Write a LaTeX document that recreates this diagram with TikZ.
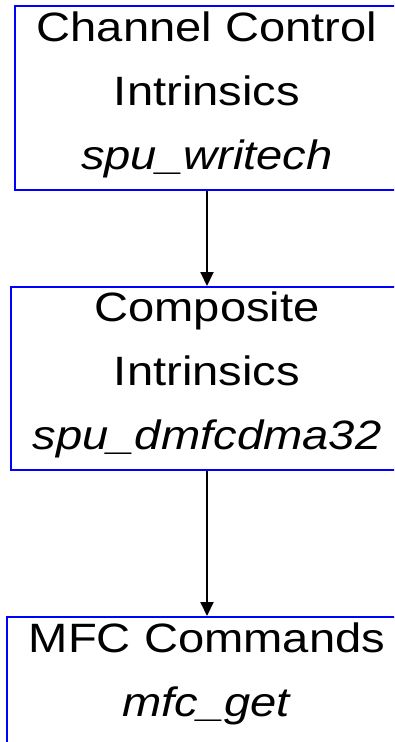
\documentclass[tikz,border=0pt]{standalone}
\usepackage{fontspec}
\setmainfont{Liberation Sans}
\newfontfamily\blkfont[FakeStretch=1.15]{Liberation Sans}
\usetikzlibrary{arrows.meta,positioning}
\definecolor{blkblue}{HTML}{0000FF}
\tikzset{
  blk/.style  = {rectangle, draw=blkblue, line width=2pt, align=center,
                 inner sep=0pt, anchor=north,
                 font=\blkfont\fontsize{41}{64}\selectfont},
  flow/.style = {-{Triangle[length=14pt, width=13pt]}, line width=2pt},
}

\begin{document}
\begin{tikzpicture}[x=1pt,y=1pt]
  \useasboundingbox (0,0) rectangle (394,-742);
  \clip (0,0) rectangle (394,-742);
  % three stacked layers, widest at the bottom
  \node[blk, minimum width=384pt, text height=163pt, text depth=21pt]
    (chan) at (207,-5) {Channel Control\\Intrinsics\\\textit{spu\_writech}};
  \node[blk, minimum width=392pt, text height=162pt, text depth=21pt]
    (comp) at (207,-286) {Composite\\Intrinsics\\\textit{spu\_dmfcdma32}};
  \node[blk, minimum width=400pt, text height=99pt, text depth=100pt]
    (mfc) at (207,-616) {MFC Commands\\\textit{mfc\_get}};
  \draw[flow] (chan) -- (comp);
  \draw[flow] (comp) -- (mfc);
\end{tikzpicture}
\end{document}
